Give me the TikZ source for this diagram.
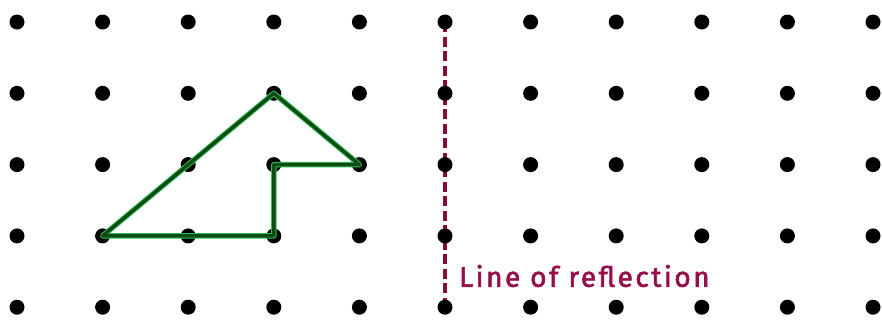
\documentclass[tikz,border=0pt]{standalone}
\usepackage{fontspec}
\newfontfamily\labelfont[FakeBold=2.2,LetterSpace=9]{Fira Sans}
\definecolor{reflmag}{RGB}{150,15,75}
\definecolor{dashmag}{RGB}{135,10,60}
\definecolor{shapegreen}{RGB}{15,75,20}
\definecolor{glowgreen}{RGB}{50,190,80}
\tikzset{
  griddot/.style={circle,fill=black,minimum size=15pt,inner sep=0pt},
  shapeedge/.style={draw=shapegreen,line width=3.4pt,line join=round},
  shapeglow/.style={draw=glowgreen,line width=5.4pt,line join=round},
  reflline/.style={draw=dashmag,line width=3.4pt,dash pattern=on 10pt off 4.5pt},
  refllabel/.style={text=reflmag,font=\labelfont\fontsize{28}{32}\selectfont,anchor=west,inner sep=0pt}
}
\begin{document}
\begin{tikzpicture}[x=1pt,y=-1pt]
\useasboundingbox (0,0) rectangle (882,322);
\draw[reflline] (445,22) -- (445,307);
\foreach \i in {0,...,10}{
  \foreach \j in {0,...,4}{
    \node[griddot] (d-\i-\j) at ({17+85.6*\i},{22+71.3*\j}) {};
  }
}
\draw[shapeglow] (d-1-3.center) -- (d-3-1.center) -- (d-4-2.center) -- (d-3-2.center) -- (d-3-3.center) -- cycle;
\draw[shapeedge] (d-1-3.center) -- (d-3-1.center) -- (d-4-2.center) -- (d-3-2.center) -- (d-3-3.center) -- cycle;
\node[refllabel] (lbl) at (459,276) {Line of reflection};
\end{tikzpicture}
\end{document}
